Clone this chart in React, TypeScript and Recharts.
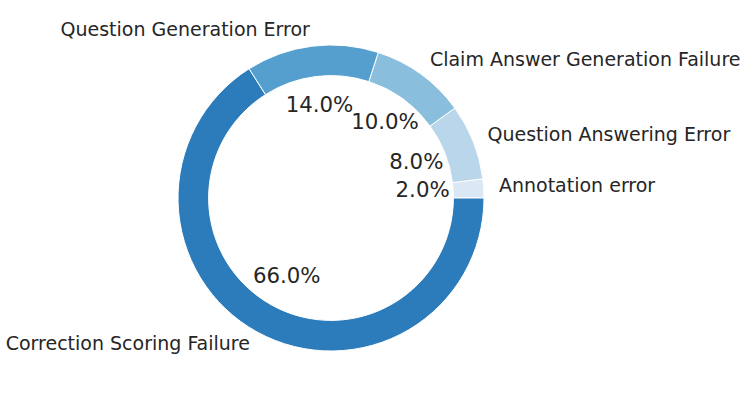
import React from "react";
import { PieChart, Pie, Cell } from "recharts";

const categories = [
  "Annotation error",
  "Question Answering Error",
  "Claim Answer Generation Failure",
  "Question Generation Error",
  "Correction Scoring Failure",
];
const shares = [2, 8, 10, 14, 66];
const colors = ["#dae8f5", "#bad6eb", "#89bedc", "#559fcf", "#2c7bba"];

const data = categories.map((name, i) => ({ name, value: shares[i] }));

const RADIAN = Math.PI / 180;
const FONT = "'DejaVu Sans', sans-serif";

const renderLabel = (props: any) => {
  const { cx, cy, midAngle, outerRadius, percent, name } = props;
  const cos = Math.cos(-midAngle * RADIAN);
  const sin = Math.sin(-midAngle * RADIAN);
  const lr = outerRadius * 1.1;
  const pr = outerRadius * 0.6;
  const lx = cx + lr * cos;
  const ly = cy + lr * sin;
  const px = cx + pr * cos;
  const py = cy + pr * sin;
  return (
    <g>
      <text
        x={lx}
        y={ly - 2.5}
        textAnchor={lx > cx ? "start" : "end"}
        dominantBaseline="central"
        fontFamily={FONT}
        fontSize={19}
        fill="#262626"
      >
        {name}
      </text>
      <text
        x={px}
        y={py - 2.5}
        textAnchor="middle"
        dominantBaseline="central"
        fontFamily={FONT}
        fontSize={21.3}
        fill="#262626"
      >
        {(percent * 100).toFixed(1) + "%"}
      </text>
    </g>
  );
};

export default function App() {
  return (
    <div style={{ width: 747, height: 395, background: "#fff" }}>
      <style>{"body{margin:0}"}</style>
      <PieChart width={747} height={395} margin={{ top: 0, right: 0, bottom: 0, left: 0 }}>
        <Pie
          data={data}
          dataKey="value"
          nameKey="name"
          cx={331}
          cy={198}
          innerRadius={122.4}
          outerRadius={153}
          startAngle={0}
          endAngle={360}
          stroke="#ffffff"
          strokeWidth={1}
          label={renderLabel}
          labelLine={false}
          isAnimationActive={false}
        >
          {data.map((d, i) => (
            <Cell key={d.name} fill={colors[i]} />
          ))}
        </Pie>
      </PieChart>
    </div>
  );
}
